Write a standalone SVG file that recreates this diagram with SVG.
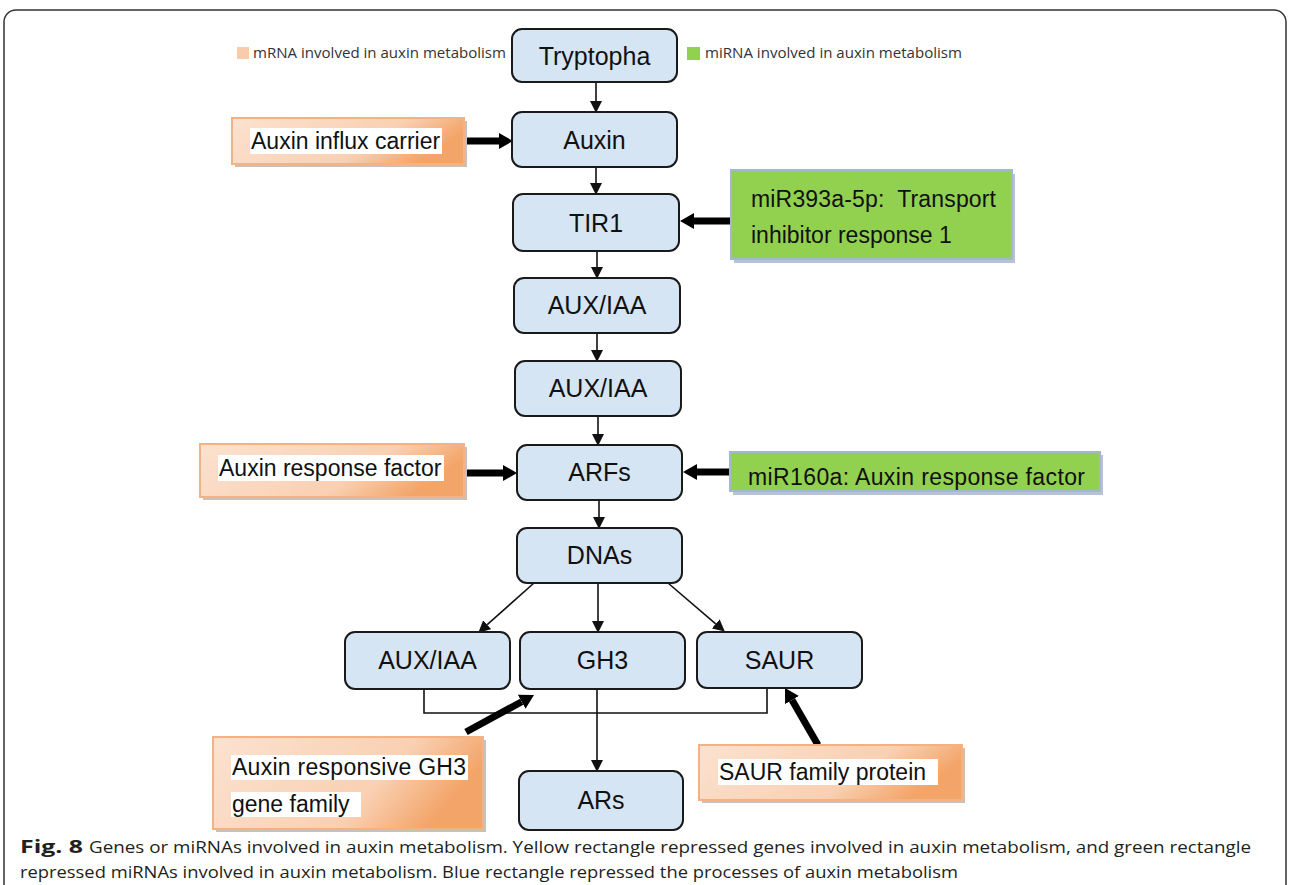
<svg xmlns="http://www.w3.org/2000/svg" width="1290" height="885" viewBox="0 0 1290 885">
<defs>
<style>
.blue{fill:#d6e5f4;stroke:#1a1a1a;stroke-width:2}
.bt{font-family:"Liberation Sans",Arial,sans-serif;font-size:25px;fill:#111;text-anchor:middle}
.ot{font-family:"Liberation Sans",Arial,sans-serif;font-size:23px;fill:#111}
.gt{font-family:"Liberation Sans",Arial,sans-serif;font-size:23px;fill:#111}
.orange{fill:url(#og);stroke:#f4b183;stroke-width:2}
.oshadow{fill:#c9c0b8}
.green{fill:#92d050;stroke:#a3b6d2;stroke-width:2}
.gshadow{fill:#b7c2d3}
.wbg{fill:#ffffff}
.thin{stroke:#111;stroke-width:1.6;fill:none}
.thick{stroke:#000;stroke-width:7;fill:none}
.leg{font-family:"Open Sans","Noto Sans",sans-serif;font-size:15px;fill:#333}
.cap{font-family:"Open Sans","Noto Sans",sans-serif;font-size:17px;fill:#231f20}
</style>
<linearGradient id="og" x1="0" y1="0" x2="1" y2="0.3">
<stop offset="0" stop-color="#fbe2d0"/>
<stop offset="0.7" stop-color="#f9d0b2"/>
<stop offset="1" stop-color="#f3a468"/>
</linearGradient>
<marker id="ah" markerUnits="userSpaceOnUse" markerWidth="12" markerHeight="12" refX="0" refY="6" orient="auto">
<path d="M0,0 L12,6 L0,12 z" fill="#111"/>
</marker>
<marker id="ahb" markerUnits="userSpaceOnUse" markerWidth="14" markerHeight="16" refX="0" refY="8" orient="auto">
<path d="M0,0 L14,8 L0,16 z" fill="#000"/>
</marker>
<clipPath id="c160"><rect x="730" y="452" width="370" height="39"/></clipPath>
</defs>

<rect x="4" y="10" width="1282" height="900" rx="12" fill="#fff" stroke="#333" stroke-width="1.5"/>

<g id="legend">
<rect x="237" y="47" width="12" height="12" fill="#f8cbad"/>
<text class="leg" x="253" y="58" textLength="253" lengthAdjust="spacingAndGlyphs">mRNA involved in auxin metabolism</text>
<rect x="687" y="47" width="13" height="13" fill="#92d050"/>
<text class="leg" x="705" y="58" textLength="257" lengthAdjust="spacingAndGlyphs">miRNA involved in auxin metabolism</text>
</g>

<g id="connectors">
<line class="thin" x1="596" y1="82" x2="596" y2="101" marker-end="url(#ah)"/>
<line class="thin" x1="596" y1="167" x2="596" y2="183" marker-end="url(#ah)"/>
<line class="thin" x1="597" y1="251" x2="597" y2="267" marker-end="url(#ah)"/>
<line class="thin" x1="597" y1="333" x2="597" y2="350" marker-end="url(#ah)"/>
<line class="thin" x1="598" y1="416" x2="598" y2="434" marker-end="url(#ah)"/>
<line class="thin" x1="599" y1="500" x2="599" y2="517" marker-end="url(#ah)"/>
<line class="thin" x1="598" y1="583" x2="598" y2="621" marker-end="url(#ah)"/>
<line class="thin" x1="534" y1="583" x2="487.2" y2="624.7" marker-end="url(#ah)"/>
<line class="thin" x1="668" y1="583" x2="715.7" y2="623.8" marker-end="url(#ah)"/>
<polyline class="thin" points="424,689 424,713 767,713 767,688"/>
<line class="thin" x1="597" y1="689" x2="597" y2="760" marker-end="url(#ah)"/>
<line class="thick" x1="467" y1="141" x2="499" y2="141" marker-end="url(#ahb)"/>
<line class="thick" x1="731" y1="221" x2="694" y2="221" marker-end="url(#ahb)"/>
<line class="thick" x1="467" y1="473" x2="503" y2="473" marker-end="url(#ahb)"/>
<line class="thick" x1="730" y1="472" x2="697" y2="472" marker-end="url(#ahb)"/>
<line class="thick" x1="466" y1="732" x2="521.7" y2="701.7" marker-end="url(#ahb)"/>
<line class="thick" x1="818" y1="745" x2="792" y2="700.1" marker-end="url(#ahb)"/>
</g>

<g id="n-tryptopha"><rect class="blue" x="512" y="29" width="165" height="53" rx="10"/><text class="bt" x="594.5" y="65">Tryptopha</text></g>
<g id="n-auxin"><rect class="blue" x="512" y="112" width="165" height="55" rx="10"/><text class="bt" x="594.5" y="149">Auxin</text></g>
<g id="n-tir1"><rect class="blue" x="513" y="194" width="166" height="57" rx="10"/><text class="bt" x="596" y="232">TIR1</text></g>
<g id="n-auxiaa1"><rect class="blue" x="514" y="278" width="166" height="55" rx="10"/><text class="bt" x="597" y="314">AUX/IAA</text></g>
<g id="n-auxiaa2"><rect class="blue" x="515" y="361" width="166" height="55" rx="10"/><text class="bt" x="598" y="397">AUX/IAA</text></g>
<g id="n-arfs"><rect class="blue" x="517" y="445" width="165" height="55" rx="10"/><text class="bt" x="599.5" y="481">ARFs</text></g>
<g id="n-dnas"><rect class="blue" x="517" y="528" width="165" height="55" rx="10"/><text class="bt" x="599.5" y="564">DNAs</text></g>
<g id="n-auxiaa3"><rect class="blue" x="345" y="632" width="165" height="57" rx="10"/><text class="bt" x="427.5" y="669">AUX/IAA</text></g>
<g id="n-gh3"><rect class="blue" x="520" y="632" width="165" height="57" rx="10"/><text class="bt" x="602.5" y="669">GH3</text></g>
<g id="n-saur"><rect class="blue" x="697" y="632" width="165" height="56" rx="10"/><text class="bt" x="779.5" y="669">SAUR</text></g>
<g id="n-ars"><rect class="blue" x="519" y="771" width="164" height="59" rx="10"/><text class="bt" x="601" y="809">ARs</text></g>

<g id="n-influx">
<rect class="oshadow" x="235" y="121" width="232" height="46"/>
<rect class="orange" x="232" y="118" width="232" height="46"/>
<rect class="wbg" x="250" y="128" width="192" height="26"/>
<text class="ot" x="251" y="149">Auxin influx carrier</text>
</g>
<g id="n-arf-gene">
<rect class="oshadow" x="203" y="447" width="264" height="53"/>
<rect class="orange" x="200" y="444" width="264" height="53"/>
<rect class="wbg" x="218" y="455" width="226" height="26"/>
<text class="ot" x="219" y="476">Auxin response factor</text>
</g>
<g id="n-gh3-gene">
<rect class="oshadow" x="216" y="740" width="270" height="92"/>
<rect class="orange" x="213" y="737" width="270" height="92"/>
<rect class="wbg" x="231" y="755" width="237" height="25"/>
<rect class="wbg" x="231" y="792" width="130" height="25"/>
<text class="ot" x="232" y="775" textLength="234" lengthAdjust="spacing">Auxin responsive GH3</text>
<text class="ot" x="232" y="812">gene family</text>
</g>
<g id="n-saur-gene">
<rect class="oshadow" x="702" y="748" width="263" height="55"/>
<rect class="orange" x="699" y="745" width="263" height="55"/>
<rect class="wbg" x="718" y="759" width="220" height="26"/>
<text class="ot" x="719" y="780">SAUR family protein</text>
</g>

<g id="n-mir393">
<rect class="gshadow" x="734" y="174" width="281" height="89"/>
<rect class="green" x="731" y="170" width="281" height="89"/>
<text class="gt" x="751" y="207" textLength="245" lengthAdjust="spacing">miR393a-5p:&#160; Transport</text>
<text class="gt" x="751" y="243">inhibitor response 1</text>
</g>
<g id="n-mir160">
<rect class="gshadow" x="733" y="455" width="370" height="40"/>
<rect class="green" x="730" y="452" width="370" height="39"/>
<text class="gt" x="748" y="485" textLength="337" lengthAdjust="spacing" clip-path="url(#c160)">miR160a: Auxin response factor</text>
</g>

<g id="caption">
<text class="cap" x="20" y="853" font-weight="bold" textLength="63" lengthAdjust="spacingAndGlyphs">Fig. 8</text>
<text class="cap" x="89" y="853" textLength="1162" lengthAdjust="spacingAndGlyphs">Genes or miRNAs involved in auxin metabolism. Yellow rectangle repressed genes involved in auxin metabolism, and green rectangle</text>
<text class="cap" x="20" y="878" textLength="938" lengthAdjust="spacingAndGlyphs">repressed miRNAs involved in auxin metabolism. Blue rectangle repressed the processes of auxin metabolism</text>
</g>
</svg>
